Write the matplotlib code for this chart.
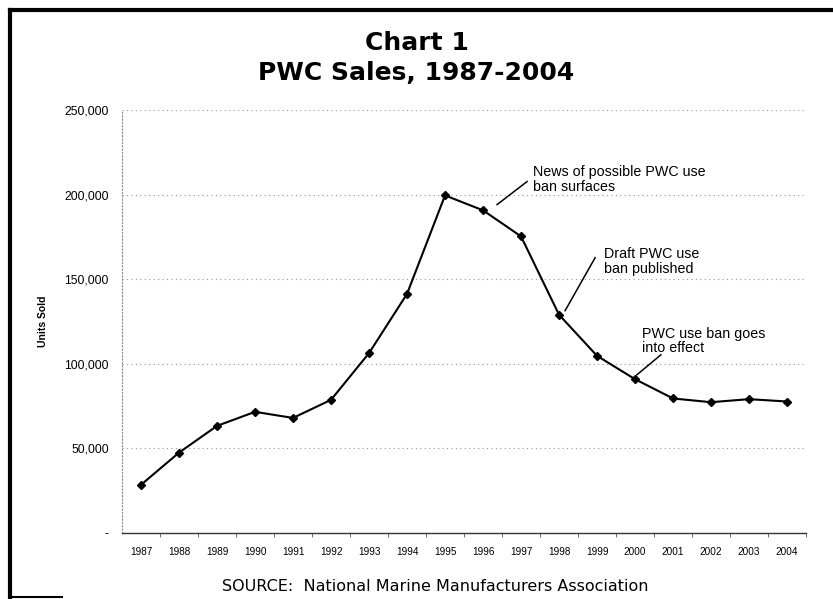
import matplotlib.pyplot as plt
from matplotlib.lines import Line2D
from matplotlib.ticker import FuncFormatter

# PWC unit sales by year
years = ['1987', '1988', '1989', '1990', '1991', '1992', '1993', '1994', '1995',
         '1996', '1997', '1998', '1999', '2000', '2001', '2002', '2003', '2004']
units = [28500, 47500, 63300, 71600, 68000, 78700, 106300, 141300, 199500,
         190700, 175300, 129000, 104700, 90900, 79500, 77300, 79100, 77700]

# event notes
notes = ['News of possible PWC use\nban surfaces',
         'Draft PWC use\nban published',
         'PWC use ban goes\ninto effect']
note_xy = [(10.32, 217500), (12.18, 169000), (13.18, 121800)]
# pointer lines: (start, end) in data units
pointers = [((9.37, 194100), (10.16, 207700)),
            ((11.16, 131400), (11.95, 162700)),
            ((13.05, 93500), (13.68, 105300))]

fig = plt.figure(figsize=(8.33, 5.99), dpi=100)
ax = fig.add_axes([0.1465, 0.1102, 0.8211, 0.7062])

x = range(len(years))
ax.plot(x, units, color='black', lw=1.5, marker='D', ms=4, zorder=3)

ax.set_xlim(-0.5, len(years) - 0.5)
ax.set_ylim(0, 250000)
ax.set_yticks([0, 50000, 100000, 150000, 200000, 250000])
ax.yaxis.set_major_formatter(FuncFormatter(lambda v, p: '-' if v == 0 else f'{int(v):,}'))
ax.set_xticks(list(x))
ax.set_xticklabels(years, fontsize=7.2, family='Liberation Sans')
ax.set_xticks([i + 0.5 for i in range(len(years))], minor=True)
ax.tick_params(axis='x', which='major', length=0, pad=10)
ax.tick_params(axis='x', which='minor', length=3, color='#555555', direction='out')
ax.tick_params(axis='y', length=0, pad=9.4, labelsize=8.8)
for lab in ax.get_yticklabels():
    lab.set_family('Liberation Sans')

ax.grid(axis='y', ls=(0, (1, 3)), color='#999999', lw=0.8)
ax.set_axisbelow(True)
for s in ['top', 'right']:
    ax.spines[s].set_visible(False)
ax.spines['left'].set_linestyle((0, (1, 2)))
ax.spines['left'].set_color('#888888')
ax.spines['left'].set_linewidth(0.8)
ax.spines['bottom'].set_color('#333333')
ax.spines['bottom'].set_linewidth(1.0)

ax.set_ylabel('Units Sold', fontsize=7.5, fontweight='bold', family='Liberation Sans', labelpad=12)

for txt, (tx, ty), (p0, p1) in zip(notes, note_xy, pointers):
    ax.text(tx, ty, txt, fontsize=10.3, family='Liberation Sans', va='top', ha='left', linespacing=1.05)
    ax.plot([p0[0], p1[0]], [p0[1], p1[1]], color='black', lw=1.1, zorder=4)

fig.text(0.5, 0.929, 'Chart 1', ha='center', va='center', fontsize=18, fontweight='bold')
fig.text(0.5, 0.878, 'PWC Sales, 1987-2004', ha='center', va='center', fontsize=18, fontweight='bold')
fig.text(0.523, 0.021, 'SOURCE:  National Marine Manufacturers Association', ha='center', va='center',
         fontsize=11.5, family='DejaVu Sans')

# page frame
fig.add_artist(Line2D([0.012, 1.0], [0.983, 0.983], color='black', lw=3, transform=fig.transFigure))
fig.add_artist(Line2D([0.012, 0.012], [0.003, 0.983], color='black', lw=3, transform=fig.transFigure))
fig.add_artist(Line2D([0.012, 0.075], [0.004, 0.004], color='black', lw=1.5, transform=fig.transFigure))

fig.savefig('out.png', dpi=100)
